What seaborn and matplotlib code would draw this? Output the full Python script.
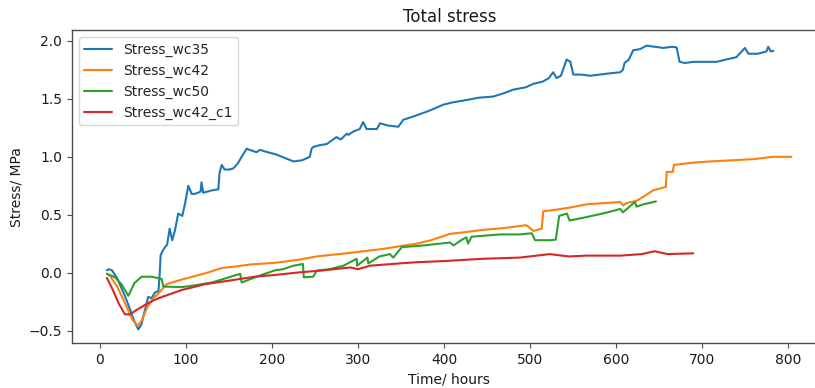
import matplotlib
matplotlib.use('Agg')
import matplotlib.pyplot as plt
import seaborn as sns

# (time in hours, stress in MPa)
wc35 = [(8, 0.02), (10, 0.03), (14, 0.02), (20, -0.05), (30, -0.22), (40, -0.42), (44.5, -0.49),
        (48, -0.45), (52, -0.33), (56, -0.21), (60, -0.22), (64, -0.17), (68, -0.16), (69.5, 0.0),
        (70.5, 0.15), (73, 0.19), (75.6, 0.22), (78, 0.24), (81, 0.38), (84, 0.28), (87, 0.36),
        (91, 0.51), (95.7, 0.49), (99, 0.6), (102.7, 0.75), (106.6, 0.68), (110, 0.68), (114, 0.69),
        (117, 0.70), (118, 0.78), (120, 0.69), (125, 0.70), (130, 0.71), (137.6, 0.72), (139, 0.86),
        (141.5, 0.93), (145, 0.89), (150, 0.89), (155, 0.90), (160, 0.94), (164.7, 1.0), (170.5, 1.07),
        (174, 1.06), (178, 1.05), (182, 1.04), (186, 1.06), (195, 1.04), (205, 1.02), (215, 0.99),
        (225, 0.96), (235, 0.97), (244, 1.0), (246, 1.07), (248, 1.085), (255, 1.10), (263.6, 1.11),
        (275, 1.17), (280, 1.15), (287, 1.20), (289, 1.19), (295, 1.22), (302, 1.24), (306, 1.30),
        (310, 1.24), (322, 1.24), (325.6, 1.29), (335, 1.27), (347, 1.26), (352.7, 1.32), (365, 1.35),
        (380, 1.39), (390, 1.42), (399, 1.45), (410, 1.47), (426, 1.49), (440, 1.51), (457, 1.52),
        (470, 1.55), (480.6, 1.58), (495, 1.60), (504, 1.63), (515, 1.65), (522, 1.68), (527, 1.73),
        (531, 1.68), (536, 1.70), (542.6, 1.84), (547, 1.82), (550.4, 1.71), (560, 1.71), (570, 1.70),
        (581, 1.71), (592, 1.72), (605, 1.73), (608, 1.75), (610, 1.81), (615, 1.84), (620, 1.92),
        (628, 1.93), (635.7, 1.96), (645, 1.95), (655, 1.94), (665, 1.95), (670.5, 1.945), (674, 1.82),
        (680, 1.81), (690, 1.82), (700, 1.82), (717, 1.82), (728, 1.84), (740, 1.86), (745, 1.90),
        (750, 1.94), (754, 1.89), (765, 1.89), (775, 1.91), (777, 1.95), (780, 1.91), (783, 1.915)]

wc42 = [(8, -0.01), (12, -0.03), (20, -0.12), (30, -0.28), (38, -0.41), (43.8, -0.46), (48, -0.42),
        (55, -0.30), (62, -0.22), (68, -0.18), (77.5, -0.10), (90, -0.07), (110, -0.03), (125, 0.0),
        (141.5, 0.04), (160, 0.055), (174, 0.07), (203.5, 0.085), (230, 0.11), (252, 0.14), (290, 0.17),
        (329, 0.205), (350, 0.23), (368, 0.25), (385, 0.28), (407, 0.335), (425, 0.35), (446, 0.37),
        (470, 0.385), (496, 0.41), (504, 0.36), (513.6, 0.38), (515.5, 0.53), (527, 0.54), (545, 0.56),
        (566, 0.59), (585, 0.60), (605, 0.61), (608.5, 0.58), (612, 0.60), (624, 0.62), (635, 0.67),
        (643, 0.71), (658, 0.74), (659, 0.87), (666, 0.87), (667.4, 0.93), (690, 0.95), (709, 0.96),
        (735, 0.97), (760, 0.98), (783, 1.0), (804, 1.0)]

wc50 = [(8, -0.01), (17.4, -0.04), (25, -0.10), (33, -0.20), (40, -0.09), (48.5, -0.035), (60, -0.035),
        (71.7, -0.055), (73.6, -0.12), (95, -0.125), (110, -0.11), (130, -0.085), (150, -0.04),
        (163, -0.01), (164.7, -0.085), (184, -0.03), (203.5, 0.02), (213, 0.03), (225, 0.06),
        (236, 0.075), (237, -0.04), (248, -0.035), (252, 0.017), (267, 0.03), (283, 0.06), (298.5, 0.12),
        (299, 0.06), (311, 0.13), (312, 0.08), (325, 0.14), (337, 0.16), (341, 0.13), (351, 0.22),
        (376, 0.235), (407, 0.26), (411, 0.235), (420, 0.28), (426, 0.305), (428, 0.25), (432, 0.31),
        (465, 0.33), (488, 0.33), (502, 0.34), (506, 0.28), (523, 0.28), (530, 0.285), (534, 0.49),
        (543, 0.51), (546, 0.45), (566, 0.48), (590, 0.52), (605, 0.55), (608, 0.52), (622, 0.61),
        (624, 0.57), (632, 0.59), (646.5, 0.615)]

wc42_c1 = [(8, -0.045), (15, -0.15), (22, -0.27), (29, -0.36), (35, -0.36), (43, -0.32), (52, -0.28),
           (62, -0.24), (72, -0.21), (95, -0.15), (122, -0.10), (149, -0.07), (180, -0.035),
           (203.5, -0.02), (232.5, 0.003), (260, 0.02), (291, 0.045), (300, 0.03), (314, 0.06),
           (340, 0.075), (368, 0.09), (400, 0.10), (446, 0.12), (488, 0.13), (523, 0.16), (545, 0.14),
           (566, 0.147), (605, 0.147), (630, 0.16), (645, 0.185), (660, 0.16), (690, 0.167)]

series = [('Stress_wc35', wc35), ('Stress_wc42', wc42), ('Stress_wc50', wc50), ('Stress_wc42_c1', wc42_c1)]

sns.set_style('ticks', {'axes.spines.top': True, 'axes.spines.right': True,
                        'axes.edgecolor': '0.3', 'xtick.color': '0.3', 'ytick.color': '0.3'})
colors = sns.color_palette('tab10', 4)

fig = plt.figure(figsize=(8.15, 3.88), dpi=100)
ax = fig.add_axes([0.0883, 0.1152, 0.926, 0.8075])

for (name, pts), c in zip(series, colors):
    t = [p[0] for p in pts]
    v = [p[1] for p in pts]
    sns.lineplot(x=t, y=v, label=name, color=c, estimator=None, sort=False, linewidth=1.5, ax=ax)

ax.set_xlim(-32.6, 845)
ax.set_ylim(-0.61, 2.095)
ax.set_title('Total stress', fontsize=12, color='0.1')
ax.set_xlabel('Time/ hours', fontsize=10, color='0.1')
ax.set_ylabel('Stress/ MPa', fontsize=10, color='0.1')
ax.tick_params(labelsize=10, labelcolor='0.1')
ax.legend(loc='upper left', fontsize=10)
for s in ax.spines.values():
    s.set_visible(True)
    s.set_color('0.3')
    s.set_linewidth(1.0)

plt.savefig('out.png', dpi=100)
